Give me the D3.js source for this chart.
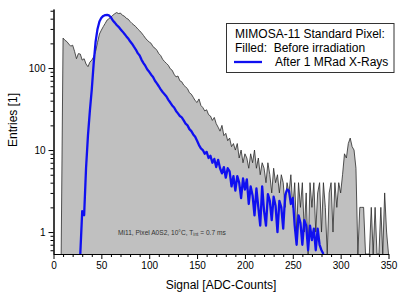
<!DOCTYPE html>
<meta charset="utf-8" />
<script src="https://d3js.org/d3.v7.js"></script>
<style>
	body { margin: 0; background: white; }
	svg { font-family: "Liberation Sans", Arial, sans-serif; }
	.axis path, .axis line { stroke: black; stroke-width: 1; }
	.axis text { font-size: 10px; fill: black; }
</style>
<div id="chart"></div>
<script>
	// Histogram bins: signal (ADC counts), bin width 2
	const grayStart = 8;
	const blueStart = 28;
	const binWidth = 2;

	// Before irradiation (filled gray)
	const grayCounts = [
		0, 232, 218, 210, 196, 185, 190, 160, 130, 150, 148, 125, 130, 112, 104, 118,
		125, 137, 160, 205, 260, 290, 320, 350, 385, 400, 420, 440, 460, 475, 462, 468,
		440, 430, 405, 395, 370, 350, 335, 320, 300, 285, 268, 250, 232, 218, 208, 200,
		182, 175, 165, 150, 142, 128, 120, 114, 108, 98, 94, 84, 78, 80, 70, 68,
		62, 59, 56, 50, 48, 44, 40, 38, 42, 35, 33, 30, 31, 27, 26, 23,
		25, 21, 19, 17, 20, 15, 16, 13, 14, 11, 12, 10, 12, 8, 10, 7,
		9, 8, 6, 9, 7, 10, 6, 8, 5, 7, 6, 4, 7, 5, 3, 6,
		4, 5, 3, 5, 4, 2, 4, 3, 5, 2, 4, 1, 4, 2, 4, 1,
		3, 0, 4, 2, 4, 1, 3, 4, 1, 4, 2, 0, 3, 4, 1, 4,
		2, 4, 3, 5, 9, 8, 12, 14, 11, 10, 6, 0, 2, 2, 2, 0,
		0, 0, 2, 0, 2, 0, 0, 2, 0, 3, 1, 0
	];

	// After 1 MRad X-rays (blue line)
	const blueCounts = [
		0.5, 1.8, 1.6, 6, 15, 30, 55, 115, 210, 300, 370, 410, 432, 442, 445, 438,
		415, 380, 358, 335, 318, 298, 280, 262, 245, 230, 212, 198, 182, 168, 152, 142,
		126, 115, 106, 96, 90, 83, 78, 70, 65, 60, 55, 51, 48, 45, 41, 38,
		35, 33, 30, 28, 26, 25, 23, 21, 20, 18, 17, 15.5, 14.5, 13, 11.5, 10.5,
		10, 9, 9.5, 8, 8.5, 7, 7.8, 6.2, 7.6, 6, 5.2, 6.2, 4.6, 6, 5.5, 3.6,
		4.8, 3.2, 4.8, 4, 2.6, 4.5, 3.3, 4.4, 2.2, 3.6, 2.8, 1.6, 3.4, 2, 1.2, 3.6,
		1.8, 1.2, 2.9, 2.4, 1.4, 2.7, 2.1, 1, 2.4, 2, 1.1, 2.8, 3.3, 3.2, 2.2, 2.6,
		1.2, 0.7, 1.6, 1.3, 0.7, 1.4, 1.2, 0.6, 1.2, 0.8, 1.1, 0.6, 1.1, 0.7, 0.6, 0.5
	];

	const xMajorTicks = [0, 50, 100, 150, 200, 250, 300, 350];
	const xMinorTicks = [10, 20, 30, 40, 60, 70, 80, 90, 110, 120, 130, 140, 160, 170, 180, 190,
		210, 220, 230, 240, 260, 270, 280, 290, 310, 320, 330, 340];
	const yMajorTicks = [1, 10, 100];
	const yMinorTicks = [0.6, 0.7, 0.8, 0.9, 2, 3, 4, 5, 6, 7, 8, 9,
		20, 30, 40, 50, 60, 70, 80, 90, 200, 300, 400, 500];

	const legendLines = ["MIMOSA-11 Standard Pixel:", "Filled:  Before irradiation", "After 1 MRad X-Rays"];

	const W = 399, H = 299;
	const plotLeft = 53.5, plotRight = 388.5, plotTop = 9, plotBottom = 254;

	const svg = d3.select("#chart").append("svg")
		.attr("width", W)
		.attr("height", H);

	const x = d3.scaleLinear().domain([0, 350]).range([plotLeft, plotRight]);
	const y = d3.scaleLog().domain([0.54, 525]).range([plotBottom, plotTop]).clamp(true);

	const gray = grayCounts.map((c, i) => ({ s: grayStart + i * binWidth, c: c }));
	const blue = blueCounts.map((c, i) => ({ s: blueStart + i * binWidth, c: c }));

	const yv = c => (c > 0 ? y(c) : plotBottom);

	// filled histogram
	svg.append("path")
		.datum(gray)
		.attr("fill", "#c0c0c0")
		.attr("stroke", "none")
		.attr("d", d3.area().x(d => x(d.s)).y0(plotBottom).y1(d => yv(d.c)));

	svg.append("path")
		.datum(gray)
		.attr("fill", "none")
		.attr("stroke", "#2a2a2a")
		.attr("stroke-width", 0.8)
		.attr("d", d3.line().x(d => x(d.s)).y(d => yv(d.c)));

	// blue line
	svg.append("path")
		.datum(blue)
		.attr("fill", "none")
		.attr("stroke", "#1010f0")
		.attr("stroke-width", 2.3)
		.attr("stroke-linejoin", "round")
		.attr("d", d3.line().x(d => x(d.s)).y(d => yv(d.c)));

	// axes
	svg.append("g").attr("class", "axis")
		.attr("transform", "translate(0," + plotBottom + ")")
		.call(d3.axisBottom(x).tickValues(xMinorTicks).tickSize(3).tickSizeOuter(0).tickFormat(""));
	svg.append("g").attr("class", "axis")
		.attr("transform", "translate(0," + plotBottom + ")")
		.call(d3.axisBottom(x).tickValues(xMajorTicks).tickSize(5).tickSizeOuter(0).tickPadding(3));

	svg.append("g").attr("class", "axis")
		.attr("transform", "translate(" + plotLeft + ",0)")
		.call(d3.axisLeft(y).tickValues(yMinorTicks).tickSize(3).tickSizeOuter(0).tickFormat(""));
	svg.append("g").attr("class", "axis")
		.attr("transform", "translate(" + plotLeft + ",0)")
		.call(d3.axisLeft(y).tickValues(yMajorTicks).tickSize(5).tickSizeOuter(0).tickPadding(3).tickFormat(d3.format("d")));

	// axis titles
	svg.append("text")
		.attr("x", 221)
		.attr("y", 289)
		.attr("text-anchor", "middle")
		.style("font-size", "12px")
		.text("Signal [ADC-Counts]");

	svg.append("text")
		.attr("transform", "translate(17,120) rotate(-90)")
		.attr("text-anchor", "middle")
		.style("font-size", "12px")
		.text("Entries [1]");

	// annotation
	const note = svg.append("text")
		.attr("x", 118)
		.attr("y", 234.5)
		.attr("fill", "#333")
		.style("font-size", "6.6px");
	note.append("tspan").text("Mi11, Pixel A0S2, 10\u00B0C, T");
	note.append("tspan").attr("dy", 1.5).style("font-size", "4.8px").text("int");
	note.append("tspan").attr("dy", -1.5).text(" = 0.7 ms");

	// legend
	const lg = svg.append("g");
	lg.append("rect")
		.attr("x", 226.5).attr("y", 23.5)
		.attr("width", 167.5).attr("height", 49)
		.attr("fill", "white")
		.attr("stroke", "#333");
	lg.append("text").attr("x", 235).attr("y", 37.5).style("font-size", "12px").text(legendLines[0]);
	lg.append("text").attr("x", 235).attr("y", 51.5).style("font-size", "12px").style("white-space", "pre")
		.text(legendLines[1]);
	lg.append("line")
		.attr("x1", 234).attr("x2", 262)
		.attr("y1", 62).attr("y2", 62)
		.attr("stroke", "#1010f0").attr("stroke-width", 2.3);
	lg.append("text").attr("x", 275).attr("y", 66).style("font-size", "12px").text(legendLines[2]);
</script>
